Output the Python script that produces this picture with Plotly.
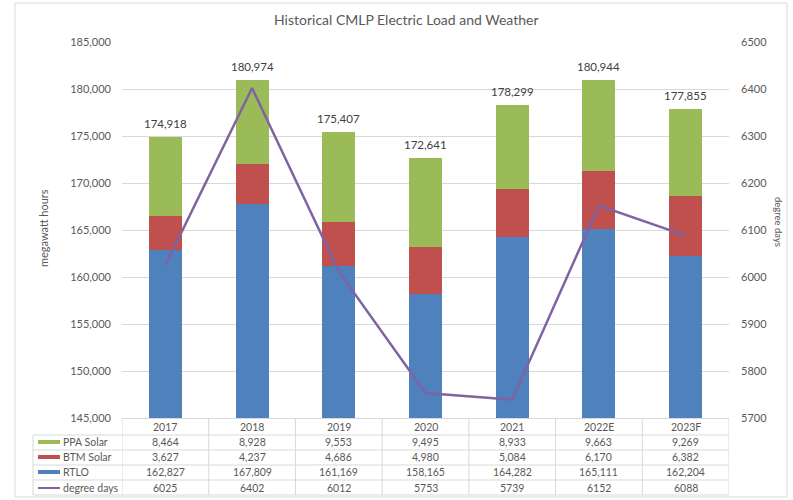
import plotly.graph_objects as go

years = ["2017", "2018", "2019", "2020", "2021", "2022E", "2023F"]
ppa_solar = [8464, 8928, 9553, 9495, 8933, 9663, 9269]
btm_solar = [3627, 4237, 4686, 4980, 5084, 6170, 6382]
rtlo = [162827, 167809, 161169, 158165, 164282, 165111, 162204]
degree_days = [6025, 6402, 6012, 5753, 5739, 6152, 6088]
totals = [174918, 180974, 175407, 172641, 178299, 180944, 177855]

C_BLUE = "#4F81BD"
C_RED = "#C0504D"
C_GREEN = "#9BBB59"
C_PURPLE = "#7F63A3"
GRID = "#d9d9d9"
TXT = "#595959"
FONT = "Lato"

WIDTH, HEIGHT = 793, 500
L, R, T, B = 122, 729, 42, 418
PW, PH = R - L, B - T


def px(X):
    return (X - L) / PW


def py(Y):
    return (B - Y) / PH


fig = go.Figure()

bw = 0.38
for name, vals, col in [("RTLO", rtlo, C_BLUE), ("BTM Solar", btm_solar, C_RED),
                        ("PPA Solar", ppa_solar, C_GREEN)]:
    fig.add_trace(go.Bar(
        x=list(range(len(years))), y=vals, name=name,
        marker=dict(color=col, line=dict(width=0)),
        width=bw, yaxis="y", showlegend=False,
    ))

fig.add_trace(go.Scatter(
    x=list(range(len(years))), y=degree_days, mode="lines", name="degree days",
    line=dict(color=C_PURPLE, width=2.5), yaxis="y2", showlegend=False,
))

annotations = []
shapes = []

# totals above bars
for i, tot in enumerate(totals):
    annotations.append(dict(
        x=i, y=tot, xref="x", yref="y", text=f"{tot:,}", showarrow=False,
        xanchor="center", yanchor="bottom", yshift=5,
        font=dict(family=FONT, size=11.5, color="#404040"),
    ))

# title
annotations.append(dict(
    x=px(406), y=py(20), xref="paper", yref="paper", xanchor="center", yanchor="middle",
    text="Historical CMLP Electric Load and Weather", showarrow=False,
    font=dict(family=FONT, size=14, color=TXT),
))
# axis titles
annotations.append(dict(
    x=px(43), y=py(228), xref="paper", yref="paper", text="megawatt hours",
    xanchor="center", yanchor="middle",
    textangle=-90, showarrow=False, font=dict(family=FONT, size=11, color=TXT),
))
annotations.append(dict(
    x=px(779), y=py(222), xref="paper", yref="paper", text="degree days",
    xanchor="center", yanchor="middle",
    textangle=90, showarrow=False, font=dict(family=FONT, size=9.5, color=TXT),
))

# data table
row_y = [427, 442, 457, 472, 488]
rows = [
    ("PPA Solar", [f"{v:,}" for v in ppa_solar], C_GREEN, 4),
    ("BTM Solar", [f"{v:,}" for v in btm_solar], C_RED, 4),
    ("RTLO", [f"{v:,}" for v in rtlo], C_BLUE, 4),
    ("degree days", [str(v) for v in degree_days], C_PURPLE, 2),
]
tfont = dict(family=FONT, size=10.5, color=TXT)
for i, yr in enumerate(years):
    annotations.append(dict(x=i, y=py(row_y[0]), xref="x", yref="paper", text=yr,
                            xanchor="center", yanchor="middle",
                            showarrow=False, font=tfont))
for r, (lab, vals, col, lw) in enumerate(rows):
    yy = row_y[r + 1]
    for i, v in enumerate(vals):
        annotations.append(dict(x=i, y=py(yy), xref="x", yref="paper", text=v,
                                xanchor="center", yanchor="middle",
                                showarrow=False, font=tfont))
    annotations.append(dict(x=px(61), y=py(yy), xref="paper", yref="paper", text=lab,
                            xanchor="left", yanchor="middle", showarrow=False, font=tfont))
    shapes.append(dict(type="rect", xref="paper", yref="paper",
                       x0=px(38), x1=px(60), y0=py(yy - lw / 2), y1=py(yy + lw / 2),
                       fillcolor=col, line=dict(width=0)))

# table grid lines
for yl in [435, 450, 465, 480, 495]:
    shapes.append(dict(type="line", xref="paper", yref="paper",
                       x0=px(33), x1=px(R), y0=py(yl), y1=py(yl),
                       line=dict(color=GRID, width=1)))
for k in range(len(years) + 1):
    shapes.append(dict(type="line", xref="x", yref="paper",
                       x0=k - 0.5, x1=k - 0.5, y0=py(B), y1=py(495),
                       line=dict(color=GRID, width=1)))
shapes.append(dict(type="line", xref="paper", yref="paper",
                   x0=px(33), x1=px(33), y0=py(435), y1=py(495),
                   line=dict(color=GRID, width=1)))

# outer frame
shapes.append(dict(type="rect", xref="paper", yref="paper",
                   x0=px(15), x1=px(787), y0=py(3), y1=py(497),
                   line=dict(color=GRID, width=1), fillcolor="rgba(0,0,0,0)",
                   layer="below"))

fig.update_layout(
    width=WIDTH, height=HEIGHT,
    margin=dict(l=L, r=WIDTH - R, t=T, b=HEIGHT - B, pad=0),
    paper_bgcolor="white", plot_bgcolor="white",
    barmode="stack", bargap=0.62,
    font=dict(family=FONT, size=10, color=TXT),
    xaxis=dict(range=[-0.5, 6.5], showticklabels=False,
               showgrid=False, showline=True, linecolor=GRID, linewidth=1,
               zeroline=False, ticks=""),
    yaxis=dict(range=[145000, 185000], dtick=5000, side="left", showgrid=True,
               gridcolor=GRID, gridwidth=1, zeroline=False, showline=False,
               tickformat=",", ticks="", ticklabelstandoff=10,
               tickfont=dict(family=FONT, size=11, color=TXT)),
    yaxis2=dict(range=[5700, 6500], dtick=100, side="right", overlaying="y",
                anchor="x", showgrid=False, zeroline=False, showline=False,
                ticks="", ticklabelstandoff=11,
                tickfont=dict(family=FONT, size=11, color=TXT)),
    annotations=annotations,
    shapes=shapes,
    showlegend=False,
)

fig.write_html("out.html", config={"displayModeBar": False},
               post_script="document.body.style.margin='0';document.body.style.overflow='hidden';")
